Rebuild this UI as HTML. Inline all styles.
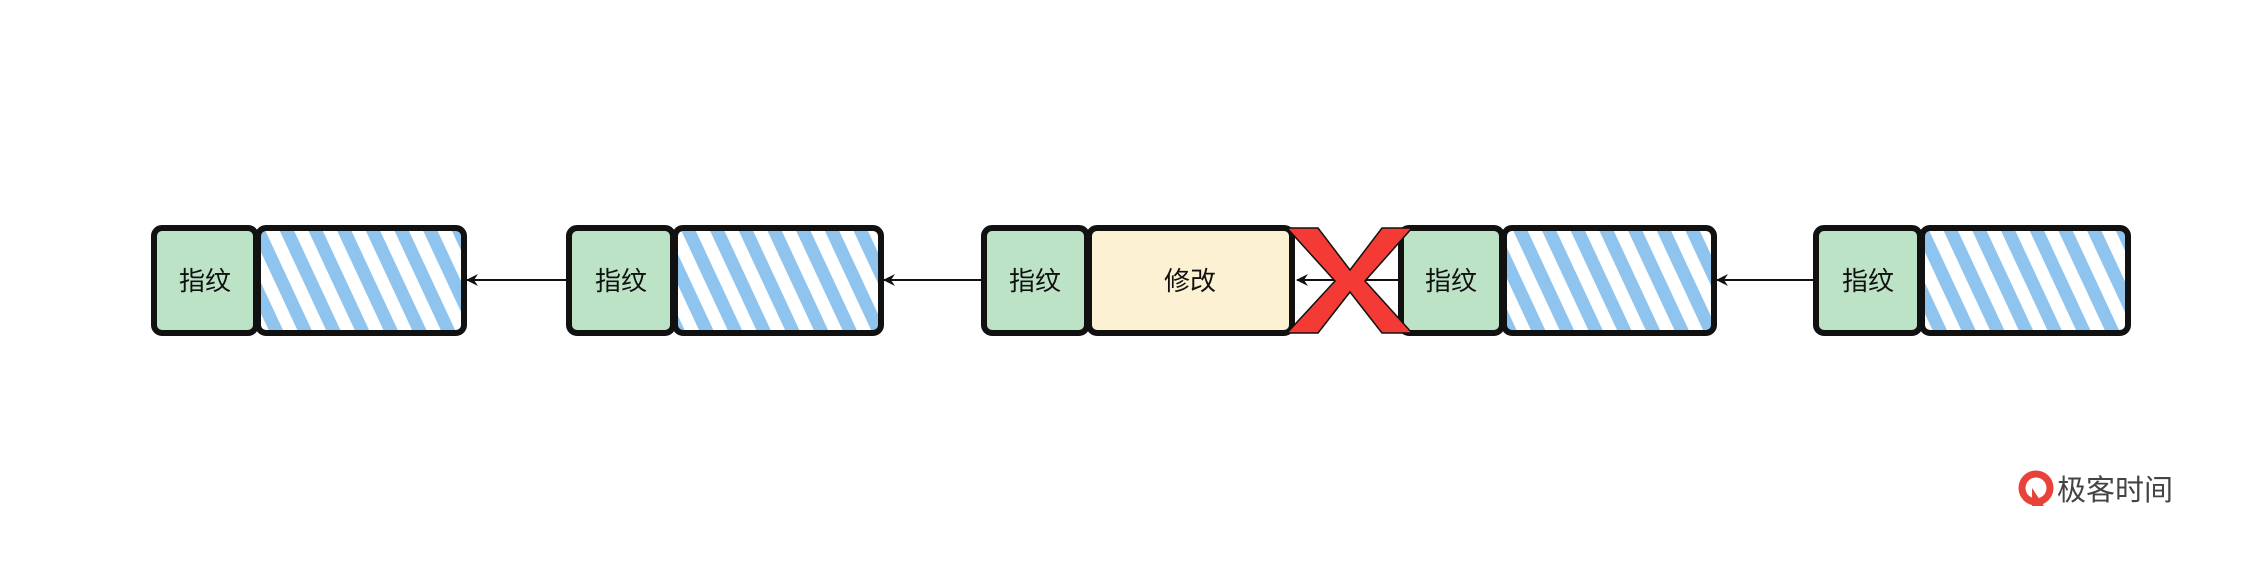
<!DOCTYPE html>
<html><head><meta charset="utf-8"><style>
body{margin:0;background:#fff;width:2248px;height:577px;overflow:hidden}
svg{display:block}
text{font-family:"Liberation Sans","Noto Sans CJK SC",sans-serif}
</style></head><body>
<svg width="2248" height="577" viewBox="0 0 2248 577">
<defs>
<pattern id="h" width="26" height="26" patternUnits="userSpaceOnUse" patternTransform="rotate(-25)">
<rect x="0" y="0" width="13" height="26" fill="#8fc4ef"/>
</pattern>
<marker id="a" markerWidth="12" markerHeight="12" refX="11" refY="6" orient="auto" markerUnits="userSpaceOnUse">
<path d="M12,6 L0,0 L4,6 L0,12 Z" fill="#111"/>
</marker>
</defs>
<g stroke="#111" stroke-width="2">
<line x1="569" y1="280" x2="467" y2="280" marker-end="url(#a)"/>
<line x1="984" y1="280" x2="884" y2="280" marker-end="url(#a)"/>
<line x1="1401" y1="280" x2="1297" y2="280" marker-end="url(#a)"/>
<line x1="1816" y1="280" x2="1717" y2="280" marker-end="url(#a)"/>
</g>
<g stroke="#111" stroke-width="6" stroke-linejoin="round">
<rect x="154" y="228" width="102" height="105" rx="8" fill="#bde3c6"/>
<rect x="258" y="228" width="206" height="105" rx="8" fill="url(#h)"/>
<rect x="569" y="228" width="104" height="105" rx="8" fill="#bde3c6"/>
<rect x="675" y="228" width="206" height="105" rx="8" fill="url(#h)"/>
<rect x="984" y="228" width="103" height="105" rx="8" fill="#bde3c6"/>
<rect x="1089" y="228" width="203" height="105" rx="8" fill="#fcf1d2"/>
<rect x="1401" y="228" width="101" height="105" rx="8" fill="#bde3c6"/>
<rect x="1504" y="228" width="210" height="105" rx="8" fill="url(#h)"/>
<rect x="1816" y="228" width="104" height="105" rx="8" fill="#bde3c6"/>
<rect x="1922" y="228" width="206" height="105" rx="8" fill="url(#h)"/>
</g>
<path d="M1287,228 L1318,228 L1350,270 L1382,228 L1412,228 L1365,281 L1412,333 L1382,333 L1350,292 L1318,333 L1287,333 L1335,281 Z" fill="#f33a35" stroke="#111" stroke-width="1.5"/>
<g font-size="26" text-anchor="middle" fill="#111">
<text x="205" y="290">指纹</text>
<text x="621" y="290">指纹</text>
<text x="1035" y="290">指纹</text>
<text x="1190" y="290">修改</text>
<text x="1451" y="290">指纹</text>
<text x="1868" y="290">指纹</text>
</g>
<circle cx="2036" cy="488" r="14" fill="none" stroke="#e8433a" stroke-width="7"/>
<path d="M2032,488 L2032,506 L2044,506 Z" fill="#e8433a"/>
<text x="2057" y="500" font-size="29" fill="#444">极客时间</text>
</svg>
</body></html>
